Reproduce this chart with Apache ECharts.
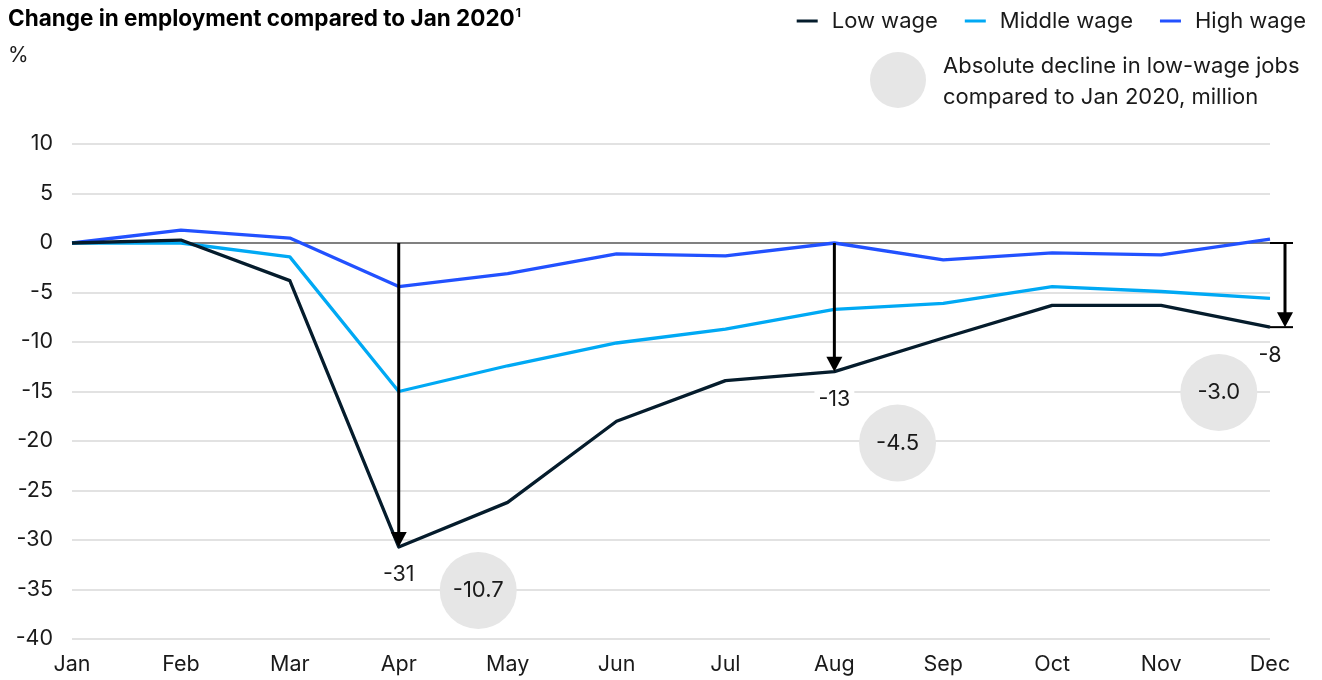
<!DOCTYPE html>
<html>
<head>
<meta charset="utf-8">
<script src="https://cdn.jsdelivr.net/npm/echarts@6/dist/echarts.min.js"></script>
<style>
  html, body { margin: 0; padding: 0; background: #fff; }
  #chart { width: 1322px; height: 680px; }
</style>
</head>
<body>
<div id="chart"></div>
<script>
// Change in employment vs Jan 2020, % by wage tier
var months = ['Jan', 'Feb', 'Mar', 'Apr', 'May', 'Jun', 'Jul', 'Aug', 'Sep', 'Oct', 'Nov', 'Dec'];
var lowWage    = [0, 0.3, -3.8, -30.7, -26.2, -18.0, -13.9, -13.0, -9.6, -6.3, -6.3, -8.5];
var middleWage = [0, 0.0, -1.4, -15.0, -12.4, -10.1, -8.7, -6.7, -6.1, -4.4, -4.9, -5.6];
var highWage   = [0, 1.3, 0.5, -4.4, -3.1, -1.1, -1.3, 0.0, -1.7, -1.0, -1.2, 0.4];
var yTicks = [10, 5, 0, -5, -10, -15, -20, -25, -30, -35, -40];

// Months highlighted with a drop arrow from the zero line to the low-wage value
var arrowMonths = [3, 7, 11];
// Absolute decline in low-wage jobs vs Jan 2020, million
var jobDeclineMillions = [-10.7, -4.5, -3.0];
// Where each bubble sits on the plot (month position, % position)
var bubbleSpots = [[3.73, -35.1], [7.58, -20.2], [10.53, -15.1]];

var FONT = 'Inter, "Noto Sans", sans-serif';
var TEXT = '#1a1a1a';
var TITLE = 'Change in employment compared to Jan 2020';
var TITLE_FONT = 'bold 22.5px ' + FONT;

function pairs(arr) { return arr.map(function (v, i) { return [i, v]; }); }

var chart = echarts.init(document.getElementById('chart'), null, { renderer: 'canvas' });

function lineSeries(name, data, color, z) {
  return {
    name: name,
    type: 'line',
    data: pairs(data),
    symbol: 'none',
    z: z,
    lineStyle: { color: color, width: 3.3, join: 'round' },
    itemStyle: { color: color },
    emphasis: { disabled: true }
  };
}

var arrowData = arrowMonths.map(function (m) { return [m, lowWage[m]]; });

var titleWidth = echarts.format.getTextRect
  ? echarts.format.getTextRect(TITLE, TITLE_FONT).width
  : 505;

var option = {
  animation: false,
  backgroundColor: '#fff',
  textStyle: { fontFamily: FONT },
  grid: { left: 72, right: 52, top: 144, bottom: 41, containLabel: false },
  legend: {
    right: 11,
    top: 5,
    itemWidth: 21,
    itemHeight: 3,
    itemGap: 27,
    icon: 'rect',
    textStyle: { fontFamily: FONT, fontSize: 22, color: TEXT, padding: [0, 0, 0, 9] },
    data: ['Low wage', 'Middle wage', 'High wage']
  },
  xAxis: {
    type: 'value',
    min: 0,
    max: 11,
    interval: 1,
    axisLine: { show: false },
    axisTick: { show: false },
    splitLine: { show: false },
    axisLabel: {
      fontFamily: FONT, fontSize: 21.5, color: TEXT, margin: 15,
      formatter: function (v) { return months[v] || ''; }
    }
  },
  yAxis: {
    type: 'value',
    min: -40,
    max: 10,
    interval: 5,
    axisLine: { show: false },
    axisTick: { show: false },
    splitLine: { lineStyle: { color: '#d9d9d9', width: 1.5 } },
    axisLabel: {
      fontFamily: FONT, fontSize: 21.5, color: TEXT, margin: 19,
      formatter: function (v) { return yTicks.indexOf(v) >= 0 ? String(v) : ''; }
    }
  },
  graphic: [
    {
      type: 'text', left: 8, top: 8,
      style: { text: TITLE, font: TITLE_FONT, fill: '#000' }
    },
    {
      type: 'text', left: 9 + titleWidth, top: 7,
      style: { text: '1', font: 'bold 12px ' + FONT, fill: '#000' }
    },
    {
      type: 'text', left: 8, top: 45,
      style: { text: '%', font: '21px ' + FONT, fill: TEXT }
    },
    {
      type: 'circle', shape: { cx: 898, cy: 80, r: 28 },
      style: { fill: '#e6e6e6' }
    },
    {
      type: 'text', left: 943, top: 51,
      style: { text: 'Absolute decline in low-wage jobs\ncompared to Jan 2020, million', font: '22px ' + FONT, fill: TEXT, lineHeight: 31 }
    }
  ],
  series: [
    lineSeries('High wage', highWage, '#2251ff', 4),
    lineSeries('Middle wage', middleWage, '#00a9f4', 5),
    Object.assign(lineSeries('Low wage', lowWage, '#051c2c', 6), {
      markLine: {
        silent: true,
        symbol: 'none',
        label: { show: false },
        lineStyle: { color: '#808080', width: 2, type: 'solid' },
        data: [{ yAxis: 0 }],
        z: 2
      }
    }),
    {
      // Grey bubbles with the low-wage job decline in millions
      name: 'Job decline',
      type: 'scatter',
      z: 3,
      symbol: 'circle',
      symbolSize: 77,
      data: bubbleSpots.map(function (p, i) { return [p[0], p[1], jobDeclineMillions[i]]; }),
      itemStyle: { color: '#e6e6e6', opacity: 1 },
      label: {
        show: true,
        position: 'inside',
        fontFamily: FONT,
        fontSize: 22,
        color: TEXT,
        formatter: function (p) { return p.value[2].toFixed(1); }
      },
      emphasis: { disabled: true }
    },
    {
      // Drop arrows from zero to the low-wage value, with rounded value labels
      name: 'Drop',
      type: 'custom',
      z: 10,
      data: arrowData,
      renderItem: function (params, api) {
        var m = api.value(0);
        var v = api.value(1);
        var top = api.coord([m, 0]);
        var bot = api.coord([m, v]);
        var isLast = m === 11;
        var x = isLast ? top[0] + 15 : top[0];
        var headH = 15, headW = 8;
        var children = [
          {
            type: 'line',
            shape: { x1: x, y1: top[1], x2: x, y2: bot[1] - headH + 1 },
            style: { stroke: '#000', lineWidth: 3 }
          },
          {
            type: 'polygon',
            shape: { points: [[x - headW, bot[1] - headH], [x + headW, bot[1] - headH], [x, bot[1]]] },
            style: { fill: '#000' }
          },
          {
            type: 'text',
            x: bot[0],
            y: bot[1] + 28,
            style: {
              text: String(Math.round(v)),
              font: '21.5px ' + FONT,
              fill: TEXT,
              align: 'center',
              verticalAlign: 'middle',
              backgroundColor: '#fff',
              padding: [0, 4]
            }
          }
        ];
        if (isLast) {
          children.push(
            { type: 'line', shape: { x1: top[0], y1: top[1], x2: x + 8, y2: top[1] }, style: { stroke: '#000', lineWidth: 2 } },
            { type: 'line', shape: { x1: bot[0], y1: bot[1], x2: x + 8, y2: bot[1] }, style: { stroke: '#000', lineWidth: 2 } }
          );
        }
        return { type: 'group', children: children };
      }
    }
  ]
};

chart.setOption(option);
</script>
</body>
</html>
